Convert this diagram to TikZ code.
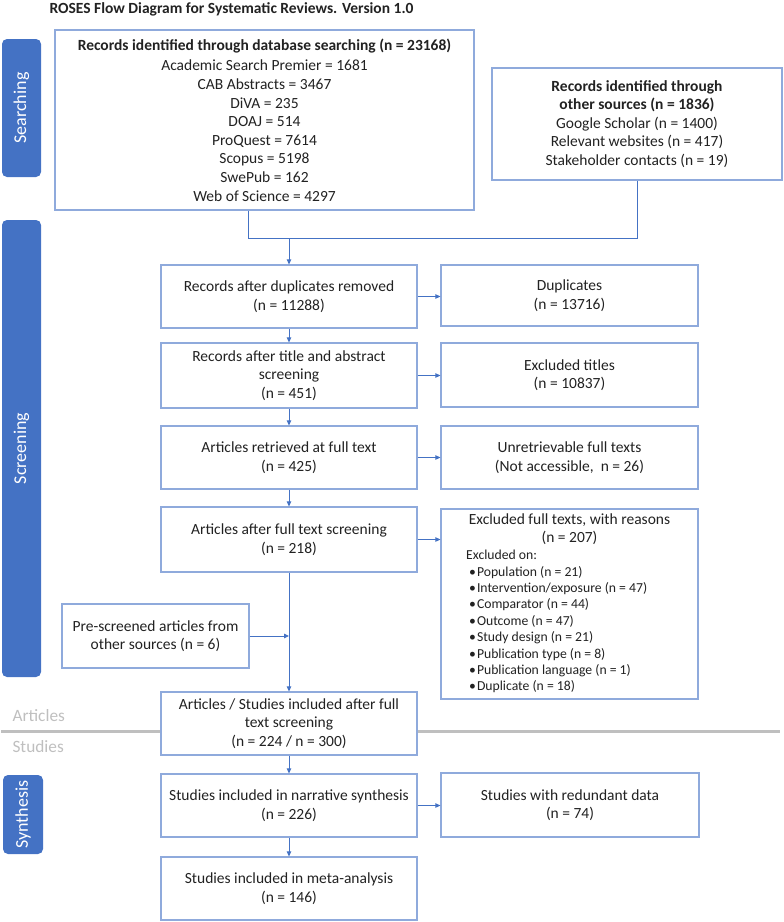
\documentclass[tikz,border=0pt]{standalone}
\usepackage{fontspec}
\setmainfont{Carlito}
\usetikzlibrary{arrows.meta, positioning}
\definecolor{roseblue}{HTML}{4472C4}
\definecolor{boxline}{HTML}{8FAADC}
\definecolor{sepgrey}{HTML}{BFBFBF}
\definecolor{ink}{HTML}{222222}
\tikzstyle{phase} = [rectangle, rounded corners=5pt, fill=roseblue, text=white, rotate=90, inner sep=0pt, font=\fontsize{18}{20}\selectfont]
\tikzstyle{stage} = [rectangle, draw=boxline, line width=1.2pt, fill=white, align=center, inner sep=0pt, text=ink, font=\fontsize{15.5}{18.6}\selectfont]
\tikzstyle{reg} = [-{Triangle[length=5pt, width=4.5pt]}, draw=roseblue, line width=0.9pt]
\tikzstyle{link} = [draw=roseblue, line width=0.9pt]

\begin{document}
\begin{tikzpicture}[x=1pt, y=-1pt]
  \useasboundingbox (0,0) rectangle (784,922);
  \node[anchor=west, text=ink, font=\bfseries\fontsize{15.5}{17}\selectfont] (heading) at (46,9) {ROSES Flow Diagram for Systematic Reviews. Version 1.0};

  % phases
  \node[phase, minimum width=138, minimum height=39] (searching) at (21.5,108) {Searching};
  \node[phase, minimum width=457, minimum height=39] (screening) at (21.5,448.5) {Screening};
  \node[phase, minimum width=79, minimum height=40] (synthesis) at (23,814.5) {Synthesis};

  % articles / studies divider
  \draw[sepgrey, line width=3pt] (1,731) -- (780,731);
  \node[anchor=west, text=sepgrey, font=\fontsize{17.3}{19}\selectfont] (articles) at (9,716) {Articles};
  \node[anchor=west, text=sepgrey, font=\fontsize{17.3}{19}\selectfont] (studies) at (9,747) {Studies};

  % searching
  \node[stage, minimum width=419, minimum height=180] (db) at (264.5,120) {\textbf{Records identified through database searching (n = 23168)}\\[2pt]
    Academic Search Premier = 1681\\ CAB Abstracts = 3467\\ DiVA = 235\\ DOAJ = 514\\
    ProQuest = 7614\\ Scopus = 5198\\ SwePub = 162\\ Web of Science = 4297};
  \node[stage, minimum width=290, minimum height=112] (other) at (637,124) {\textbf{Records identified through}\\ \textbf{other sources (n = 1836)}\\
    Google Scholar (n = 1400)\\ Relevant websites (n = 417)\\ Stakeholder contacts (n = 19)};

  % screening
  \node[stage, minimum width=256, minimum height=63] (dedup) at (289,296.5) {Records after duplicates removed\\ (n = 11288)};
  \node[stage, minimum width=257, minimum height=61] (dupl) at (569.5,295.5) {Duplicates\\ (n = 13716)};
  \node[stage, minimum width=256, minimum height=65] (titles) at (289,375.5) {Records after title and abstract\\ screening\\ (n = 451)};
  \node[stage, minimum width=257, minimum height=64] (titlesx) at (569.5,375) {Excluded titles\\ (n = 10837)};
  \node[stage, minimum width=256, minimum height=63] (retr) at (289,457.5) {Articles retrieved at full text\\ (n = 425)};
  \node[stage, minimum width=257, minimum height=63] (retrx) at (569.5,457.5) {Unretrievable full texts\\ (Not accessible,~ n = 26)};
  \node[stage, minimum width=256, minimum height=65] (fulltext) at (289,539.5) {Articles after full text screening\\ (n = 218)};
  \node[stage, minimum width=257, minimum height=190] (reasons) at (569.5,604) {};
  \node[text=ink, align=center, inner sep=0pt, font=\fontsize{15.5}{18.6}\selectfont, below=5pt of reasons.north] (reasonshead) {Excluded full texts, with reasons\\ (n = 207)};
  \node[anchor=north west, text=ink, align=left, inner sep=0pt, font=\fontsize{13.7}{16.4}\selectfont] (reasonslist) at (466,550) {Excluded on:\\
    \hspace{3pt}\textbullet\hspace{1pt}Population (n = 21)\\
    \hspace{3pt}\textbullet\hspace{1pt}Intervention/exposure (n = 47)\\
    \hspace{3pt}\textbullet\hspace{1pt}Comparator (n = 44)\\
    \hspace{3pt}\textbullet\hspace{1pt}Outcome (n = 47)\\
    \hspace{3pt}\textbullet\hspace{1pt}Study design (n = 21)\\
    \hspace{3pt}\textbullet\hspace{1pt}Publication type (n = 8)\\
    \hspace{3pt}\textbullet\hspace{1pt}Publication language (n = 1)\\
    \hspace{3pt}\textbullet\hspace{1pt}Duplicate (n = 18)};
  \node[stage, minimum width=187, minimum height=64] (pre) at (155.5,636) {Pre-screened articles from\\ other sources (n = 6)};
  \node[stage, minimum width=256, minimum height=63] (incl) at (289,723.5) {Articles / Studies included after full\\ text screening\\ (n = 224 / n = 300)};

  % synthesis
  \node[stage, minimum width=256, minimum height=63] (narr) at (289,805.5) {Studies included in narrative synthesis\\ (n = 226)};
  \node[stage, minimum width=258, minimum height=64] (redund) at (570,805) {Studies with redundant data\\ (n = 74)};
  \node[stage, minimum width=256, minimum height=63] (meta) at (289,888.5) {Studies included in meta-analysis\\ (n = 146)};

  % connectors
  \coordinate (mergeL) at (248,238);
  \coordinate (mergeR) at (637,238);
  \draw[link] (mergeL |- db.south) -- (mergeL) -- (mergeR) -- (other.south);
  \draw[reg] (mergeL -| dedup.north) -- (dedup.north);
  \draw[reg] (dedup) -- (titles);
  \draw[reg] (titles) -- (retr);
  \draw[reg] (retr) -- (fulltext);
  \draw[reg] (fulltext) -- (incl);
  \draw[reg] (pre.east) -- (pre.east -| fulltext.south);
  \draw[reg] (incl) -- (narr);
  \draw[reg] (narr) -- (meta);
  \draw[reg] (dedup.east) -- (dupl.west |- dedup.east);
  \draw[reg] (titles.east) -- (titlesx.west |- titles.east);
  \draw[reg] (retr.east) -- (retrx.west |- retr.east);
  \draw[reg] (fulltext.east) -- (reasons.west |- fulltext.east);
  \draw[reg] (narr.east) -- (redund.west |- narr.east);
\end{tikzpicture}
\end{document}
